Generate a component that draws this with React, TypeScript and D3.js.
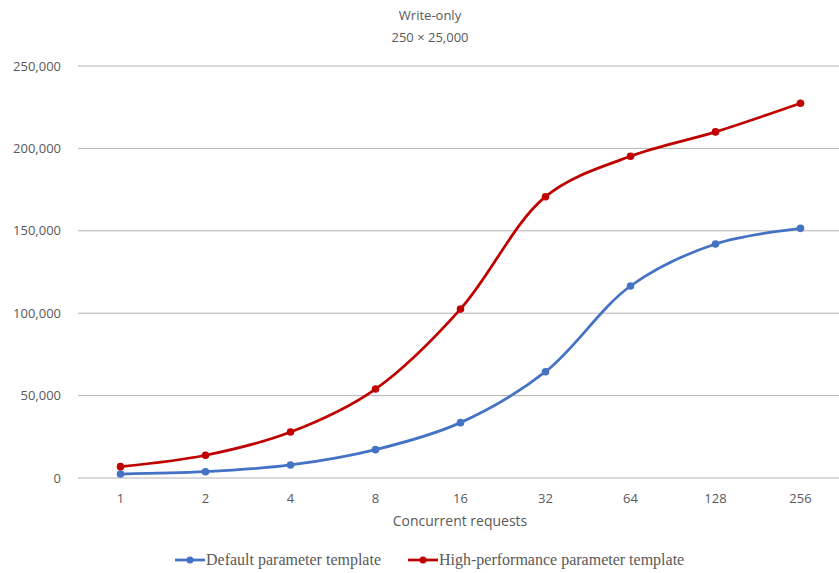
import React from "react";
import * as d3 from "d3";

const categories = ["1", "2", "4", "8", "16", "32", "64", "128", "256"];
const defaultValues = [2400, 3800, 7900, 17200, 33600, 64500, 116500, 142000, 151500];
const highPerfValues = [6900, 13800, 27900, 54000, 102500, 170700, 195200, 210000, 227400];
const yTicks = [0, 50000, 100000, 150000, 200000, 250000];
const seriesNames = ["Default parameter template", "High-performance parameter template"];
const colors = ["#4472C4", "#C00000"];

const W = 839;
const H = 573;

export default function App() {
  const left = 78;
  const right = 843;
  const top = 66;
  const bottom = 478;

  const x = d3.scaleBand<string>().domain(categories).range([left, right]);
  const y = d3.scaleLinear().domain([0, 250000]).range([bottom, top]);
  const fmt = d3.format(",");

  const line = d3
    .line<number>()
    .x((_, i) => (x(categories[i]) as number) + x.bandwidth() / 2)
    .y((d) => y(d))
    .curve(d3.curveCatmullRom.alpha(0.5));

  const series = [defaultValues, highPerfValues];
  const legendX = [175, 408];

  return (
    <svg
      width={W}
      height={H}
      style={{ position: "absolute", left: 0, top: 0, background: "#fff" }}
    >
      <text x={430} y={20} textAnchor="middle" fontFamily="'Open Sans', sans-serif" fontSize={13} fill="#595959">
        Write-only
      </text>
      <text x={430} y={42} textAnchor="middle" fontFamily="'Open Sans', sans-serif" fontSize={13} fill="#595959">
        250 × 25,000
      </text>

      {yTicks.map((t) => (
        <g key={t}>
          <line
            x1={left}
            x2={W}
            y1={y(t)}
            y2={y(t)}
            stroke={t === 0 ? "#d9d9d9" : "#b3b3b3"}
            strokeWidth={t === 0 ? 2 : 1}
          />
          <text
            x={61}
            y={y(t)}
            dy="0.35em"
            textAnchor="end"
            fontFamily="'Open Sans', sans-serif"
            fontSize={13}
            fill="#595959"
          >
            {fmt(t)}
          </text>
        </g>
      ))}

      {categories.map((c) => (
        <text
          key={c}
          x={(x(c) as number) + x.bandwidth() / 2}
          y={503}
          textAnchor="middle"
          fontFamily="'Open Sans', sans-serif"
          fontSize={13}
          fill="#595959"
        >
          {c}
        </text>
      ))}

      <text x={460} y={526} textAnchor="middle" fontFamily="'Open Sans', sans-serif" fontSize={14} fill="#595959">
        Concurrent requests
      </text>

      {series.map((s, si) => (
        <g key={si}>
          <path d={line(s) as string} fill="none" stroke={colors[si]} strokeWidth={2.75} />
          {s.map((v, i) => (
            <circle
              key={i}
              cx={(x(categories[i]) as number) + x.bandwidth() / 2}
              cy={y(v)}
              r={3.8}
              fill={colors[si]}
            />
          ))}
        </g>
      ))}

      {seriesNames.map((n, i) => (
        <g key={n}>
          <line x1={legendX[i]} x2={legendX[i] + 30} y1={560} y2={560} stroke={colors[i]} strokeWidth={2.75} />
          <circle cx={legendX[i] + 15} cy={560} r={3.5} fill={colors[i]} />
          <text
            x={legendX[i] + 31}
            y={565}
            fontFamily="'Liberation Serif', 'Times New Roman', serif"
            fontSize={16}
            fill="#595959"
          >
            {n}
          </text>
        </g>
      ))}
    </svg>
  );
}
